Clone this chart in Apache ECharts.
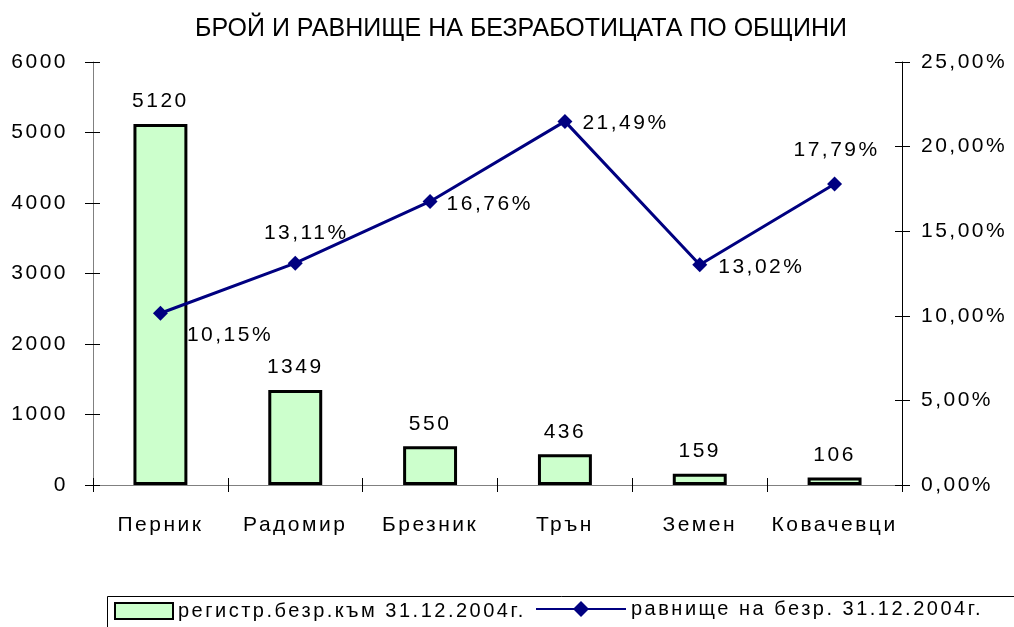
<!DOCTYPE html>
<html>
<head>
<meta charset="utf-8">
<script src="https://cdn.jsdelivr.net/npm/echarts@6/dist/echarts.min.js"></script>
<style>
html,body{margin:0;padding:0;background:#fff;}
#chart{width:1014px;height:627px;}
</style>
</head>
<body>
<div id="chart"></div>
<script>
// Data
const titleText = 'БРОЙ И РАВНИЩЕ НА БЕЗРАБОТИЦАТА ПО ОБЩИНИ';
const categories = ['Перник', 'Радомир', 'Брезник', 'Трън', 'Земен', 'Ковачевци'];
const unemployedCount = [5120, 1349, 550, 436, 159, 106];
const unemploymentRate = [10.15, 13.11, 16.76, 21.49, 13.02, 17.79];
const barSeriesName = 'регистр.безр.към 31.12.2004г.';
const lineSeriesName = 'равнище на безр. 31.12.2004г.';

// letter spacing for the widely spaced chart text (style only, not for the title)
(function(){
  const P = CanvasRenderingContext2D.prototype;
  const f = P.fillText;
  P.fillText = function(t, x, y, w){
    const prev = this.letterSpacing;
    if (/(^|\s)2[01]px/.test(this.font)) this.letterSpacing = '2.5px';
    else this.letterSpacing = '0px';
    const r = (w === undefined) ? f.call(this, t, x, y) : f.call(this, t, x, y, w);
    this.letterSpacing = prev;
    return r;
  };
})();

const FONT = 'Liberation Sans, Arial, sans-serif';
const pct = v => v.toFixed(2).replace('.', ',') + '%';

// per-point label placement for the line
const lineLabelPos = [
  {position: 'right', offset: [14, 22]},
  {position: 'top', offset: [11, -7]},
  {position: 'right', offset: [4, 3]},
  {position: 'right', offset: [5, 2]},
  {position: 'right', offset: [6, 3]},
  {position: 'top', offset: [2, -11]}
];

const chart = echarts.init(document.getElementById('chart'), null, {renderer: 'canvas'});
chart.setOption({
  animation: false,
  backgroundColor: '#fff',
  textStyle: {fontFamily: FONT, color: '#000'},
  title: {
    text: titleText, left: 195, top: 17, padding: 0,
    textStyle: {fontSize: 25, fontWeight: 'normal', color: '#000', fontFamily: FONT}
  },
  grid: {left: 93, right: 112, top: 62, bottom: 142},
  legend: [{
    data: [barSeriesName], left: 114, top: 601, padding: 0,
    itemWidth: 58, itemHeight: 16, itemGap: 5, icon: 'rect',
    textStyle: {fontSize: 20, color: '#000', fontFamily: FONT}
  }, {
    data: [lineSeriesName], left: 535, top: 599, padding: 0,
    itemWidth: 90, itemHeight: 20, itemGap: 5,
    textStyle: {fontSize: 20, color: '#000', fontFamily: FONT}
  }],
  graphic: [{
    type: 'rect', left: 105, top: 594, z: 100,
    shape: {width: 1000, height: 60},
    style: {fill: 'none', stroke: '#000', lineWidth: 1}
  }],
  xAxis: [{
    type: 'category', data: categories, position: 'bottom',
    axisLine: {show: true, lineStyle: {color: '#808080', width: 1}},
    axisTick: {show: true, inside: false, length: 7, lineStyle: {color: '#000'}},
    axisLabel: {fontSize: 21, color: '#000', margin: 30, fontFamily: FONT},
    splitLine: {show: false}
  }, {
    type: 'category', data: categories, position: 'bottom',
    axisLine: {show: false},
    axisTick: {show: true, inside: true, length: 7, lineStyle: {color: '#000'}},
    axisLabel: {show: false},
    splitLine: {show: false}
  }],
  yAxis: [{
    type: 'value', position: 'left', min: 0, max: 6000, interval: 1000,
    axisLine: {show: true, lineStyle: {color: '#808080', width: 1}},
    axisTick: {show: true, inside: false, length: 8, lineStyle: {color: '#000'}},
    axisLabel: {fontSize: 21, color: '#000', margin: 25, fontFamily: FONT, formatter: v => String(v)},
    splitLine: {show: false}
  }, {
    type: 'value', position: 'right', min: 0, max: 25, interval: 5,
    axisLine: {show: true, lineStyle: {color: '#000', width: 1}},
    axisTick: {show: true, inside: false, length: 8, lineStyle: {color: '#000'}},
    axisLabel: {fontSize: 21, color: '#000', margin: 19, fontFamily: FONT, formatter: pct},
    splitLine: {show: false}
  }, {
    type: 'value', position: 'left', min: 0, max: 6000, interval: 1000,
    axisLine: {show: false},
    axisTick: {show: true, inside: true, length: 7, lineStyle: {color: '#000'}},
    axisLabel: {show: false}, splitLine: {show: false}
  }, {
    type: 'value', position: 'right', min: 0, max: 25, interval: 5,
    axisLine: {show: false},
    axisTick: {show: true, inside: true, length: 7, lineStyle: {color: '#000'}},
    axisLabel: {show: false}, splitLine: {show: false}
  }],
  series: [{
    name: barSeriesName, type: 'bar', xAxisIndex: 0, yAxisIndex: 0,
    data: unemployedCount, barWidth: '40%',
    itemStyle: {color: '#CCFFCC', borderColor: '#000', borderWidth: 3},
    label: {show: true, position: 'top', distance: 12, fontSize: 21, color: '#000', fontFamily: FONT}
  }, {
    name: lineSeriesName, type: 'line', xAxisIndex: 0, yAxisIndex: 1,
    data: unemploymentRate.map((v, i) => ({value: v, label: lineLabelPos[i]})),
    symbol: 'diamond', symbolSize: 15,
    lineStyle: {color: '#000080', width: 3},
    itemStyle: {color: '#000080'},
    label: {show: true, fontSize: 21, color: '#000', fontFamily: FONT, distance: 5, formatter: p => pct(p.value)},
    z: 5
  }]
});
</script>
</body>
</html>
